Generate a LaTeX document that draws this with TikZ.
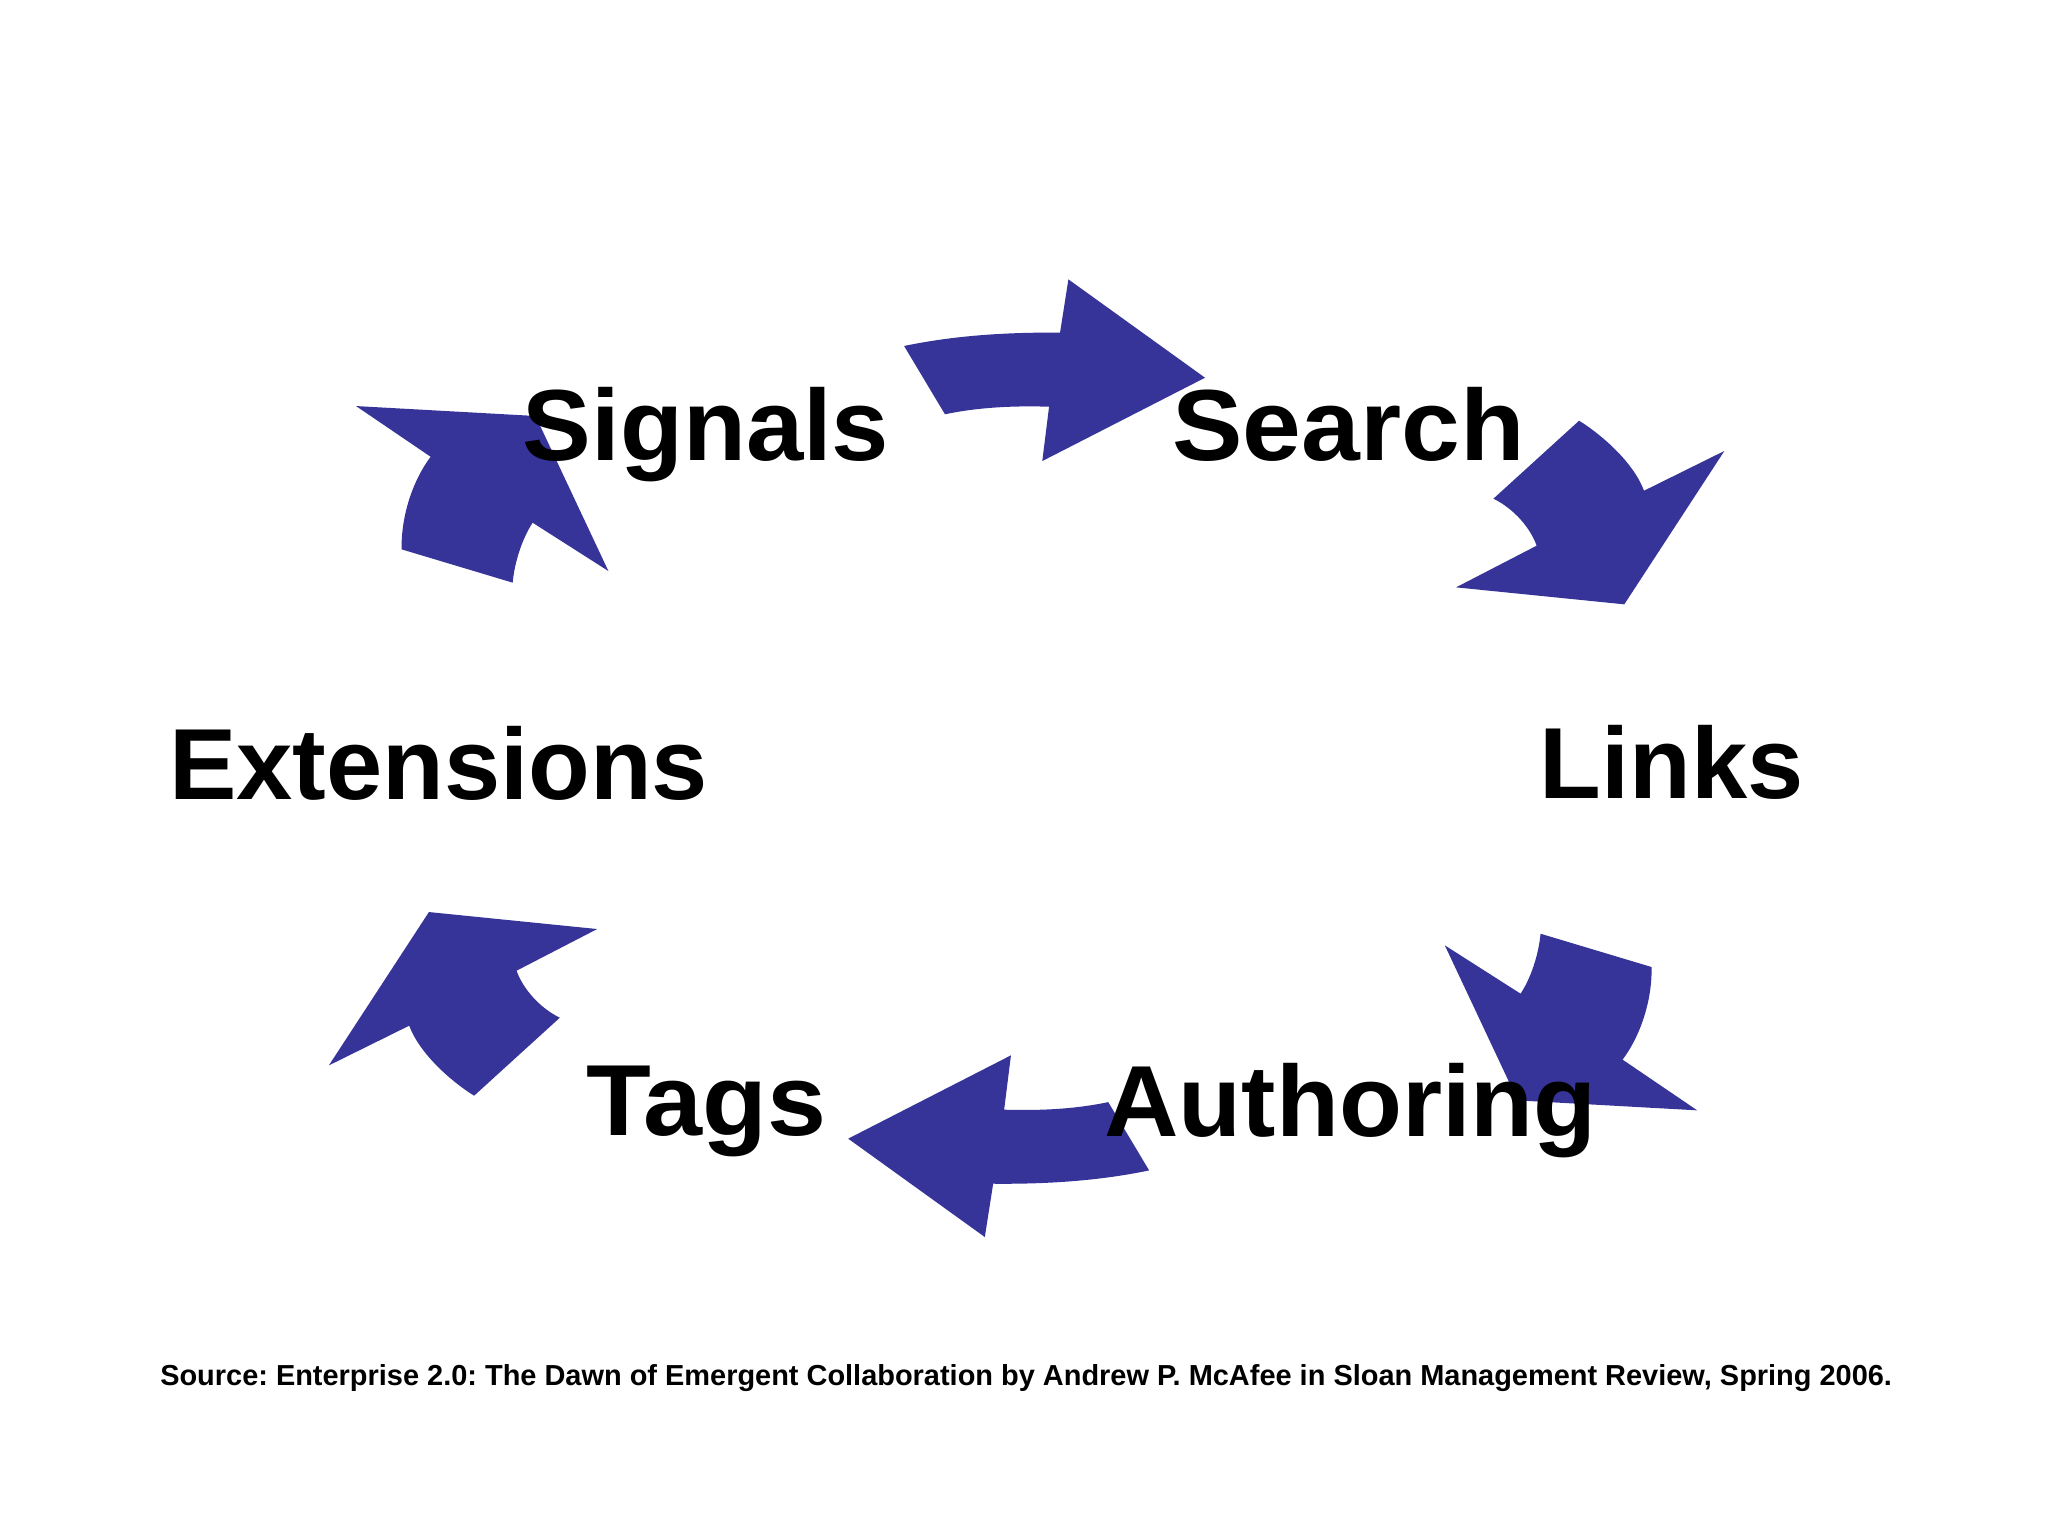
\documentclass[tikz,border=0pt]{standalone}
\usepackage{fontspec}
\setmainfont{Liberation Sans}
\newfontfamily\srcfont{Liberation Sans}
\frenchspacing
\definecolor{arrowblue}{RGB}{54,52,153}
\tikzset{
  arrowfill/.style={fill=arrowblue, draw=none},
  bigword/.style={font=\fontsize{22pt}{26pt}\selectfont\bfseries, text=black, inner sep=0pt, anchor=base},
  srcword/.style={font=\srcfont\fontsize{6.3pt}{7pt}\selectfont\bfseries, text=black, inner sep=0pt, anchor=base west}
}
\newcommand\myArrowSet{%
  % top arrow (Signals -> Search)
  \fill[arrowfill] (692.2,264.9) .. controls (730,257) and (770,254.3) .. (811.6,254.7)
    -- (818,213.9) -- (922.6,289.2) -- (798,353) -- (803.2,311.4)
    .. controls (775,310.5) and (748,312) .. (723.5,317.2) -- cycle;
  % right-top arrow (Search -> Links)
  \fill[arrowfill] (1209,322.1) .. controls (1228,334) and (1251,355) .. (1258.7,375.7)
    -- (1320.2,345.3) -- (1243.6,462.7) -- (1114.8,449.7) -- (1176.5,417.8)
    .. controls (1172,405) and (1160,390) .. (1143.4,381.8) -- cycle;
  % left-top arrow (Extensions -> Signals)
  \fill[arrowfill] (272.6,310.9) -- (410,318.5) -- (465.8,437.2) -- (407.8,400.2)
    .. controls (400,412) and (394,430) .. (392.5,446.1)
    -- (307.5,420.6) .. controls (307,395) and (316,368) .. (329.7,349.7) -- cycle;
}
\begin{document}
\begin{tikzpicture}[x=0.01cm,y=-0.01cm]
\useasboundingbox[fill=white] (0,0) rectangle (1568,1176);
\myArrowSet
\begin{scope}[rotate around={180:(786,580.5)}]
\myArrowSet
\end{scope}
\node[bigword] (signals) at (540.5,352.5) {\scalebox{1.02}[1]{Signals}};
\node[bigword] (search) at (1032.5,352.5) {\scalebox{1.045}[1]{Search}};
\node[bigword] (extensions) at (335.8,611.8) {Extensions};
\node[bigword] (links) at (1280,611.3) {Links};
\node[bigword] (tags) at (541,869) {\scalebox{1.05}[1]{Tags}};
\node[bigword] (authoring) at (1034,870.3) {\scalebox{1.02}[1]{Authoring}};
\node[srcword] (source) at (122,1060.4) {Source: Enterprise 2.0: The Dawn of Emergent Collaboration by Andrew P. McAfee in Sloan Management Review, Spring 2006.};
\end{tikzpicture}
\end{document}
